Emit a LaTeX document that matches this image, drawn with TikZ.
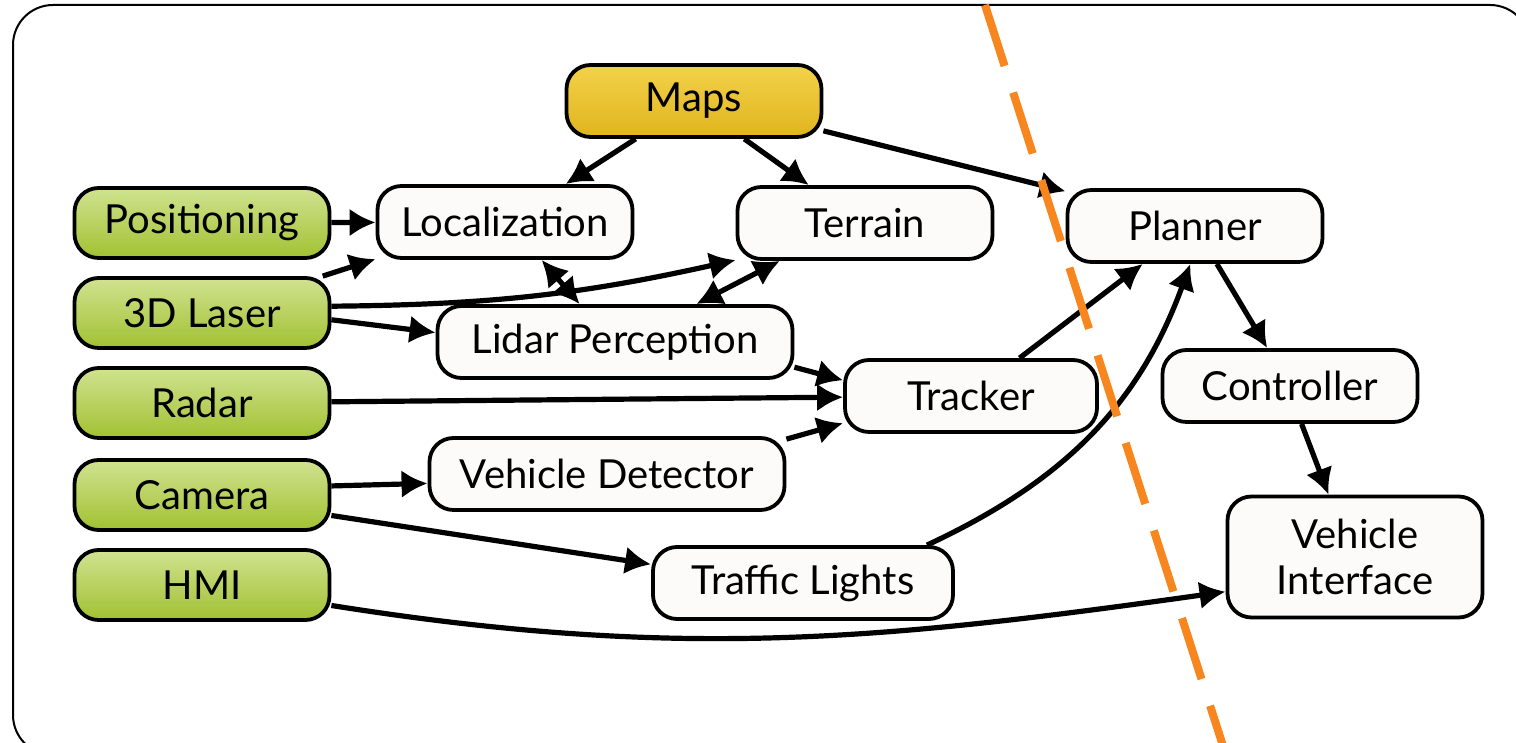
\documentclass[tikz,border=0pt]{standalone}
\usepackage{fontspec}
\setmainfont{Lato}
\usetikzlibrary{arrows.meta}
\definecolor{limetop}{HTML}{D0E290}
\definecolor{limebot}{HTML}{A2C132}
\definecolor{goldtop}{HTML}{F3D24A}
\definecolor{goldbot}{HTML}{E0B41E}
\definecolor{paper}{HTML}{FCFBF9}
\definecolor{cut}{HTML}{F7861F}

\begin{document}
\begin{tikzpicture}[x=0.5pt,y=0.5pt,
  box/.style={draw,line width=1.9pt,rounded corners=12pt,fill=paper,minimum width=127.5pt,minimum height=36pt,inner sep=0pt,align=center,font=\fontsize{20}{23}\selectfont},
  sensor/.style={box,top color=limetop,bottom color=limebot,minimum height=35pt},
  link/.style={line width=2.6pt,-{Latex[length=13pt,width=14pt]}},
  dual/.style={link,{Latex[length=13pt,width=14pt]}-{Latex[length=13pt,width=14pt]}}]
\useasboundingbox (0,0) rectangle (1516,743);
\draw[line width=1pt,rounded corners=20pt] (13,738) rectangle (1530,-12);
\node[sensor] (pos) at (202,520) {Positioning};
\node[sensor] (laser) at (202,430) {3D Laser};
\node[sensor] (radar) at (202,340) {Radar};
\node[sensor] (camera) at (202,248) {Camera};
\node[sensor] (hmi) at (202,158) {HMI};
\node[box,top color=goldtop,bottom color=goldbot] (maps) at (694,642) {Maps};
\node[box] (loc) at (505,521) {Localization};
\node[box] (terrain) at (865,520) {Terrain};
\node[box,minimum width=177.5pt] (lidar) at (615,401) {Lidar Perception};
\node[box,minimum width=126pt] (tracker) at (971,347) {Tracker};
\node[box,minimum width=177.5pt] (vdet) at (607,269) {Vehicle Detector};
\node[box,minimum width=150pt] (lights) at (803,160) {Traffic Lights};
\node[box] (planner) at (1195,517) {Planner};
\node[box] (ctrl) at (1290,357) {Controller};
\node[box,minimum height=60.5pt] (vif) at (1355,186) {Vehicle\\Interface};
\draw[link] (pos) -- (loc);
\draw[link] (laser.17) -- (loc.196);
\draw[link] (laser.3) to[bend right=6] (terrain.196);
\draw[link] (laser.-3) -- (lidar.177);
\draw[link] (maps.213) -- (loc.32);
\draw[link] (maps.-37) -- (terrain.146);
\draw[link] (maps.-13.5) -- (planner.165);
\draw[dual] (loc.-46) -- (lidar.133);
\draw[dual] (terrain.204) -- (lidar.25);
\draw[link] (lidar.-8.5) -- (tracker.173);
\draw[link] (radar) -- (tracker);
\draw[link] (vdet.11) -- (tracker.192);
\draw[link] (camera.4) -- (vdet.183);
\draw[link] (camera.-9) -- (lights.173);
\draw[link] (tracker.38) -- (planner.216);
\draw[link] (lights.17) to[out=25,in=-110] (planner.263);
\draw[link] (planner.-60) -- (ctrl.121);
\draw[link] (ctrl.-73) -- (vif.113);
\draw[link] (hmi.-9) to[out=-9,in=188] (vif.195);
\draw[cut,line width=4pt,dash pattern=on 32pt off 14pt] (985,738) -- (1224,-6);
\end{tikzpicture}
\end{document}
